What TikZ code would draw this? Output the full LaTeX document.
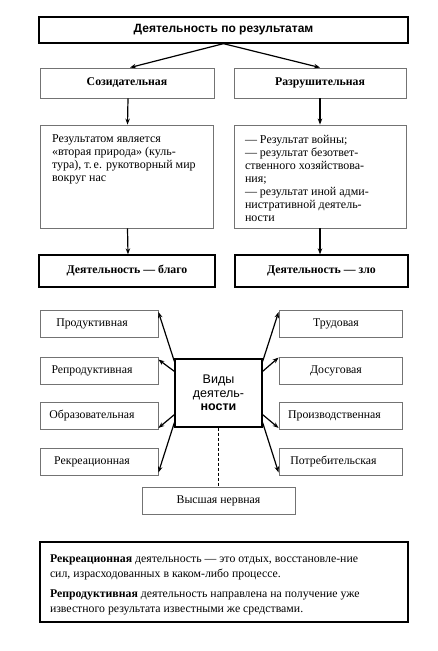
\documentclass[tikz,border=0pt]{standalone}
\usepackage{fontspec}
\setmainfont{Liberation Serif}
\newfontfamily\arialf{Liberation Sans}
\usetikzlibrary{arrows.meta}
\begin{document}
\begin{tikzpicture}[x=1pt,y=-1pt,
  blackbox/.style={draw=black,line width=1.3pt,inner sep=0pt},
  graybox/.style={draw=black!55,line width=0.9pt,inner sep=0pt},
  arr/.style={line width=1.2pt,-{Stealth[length=6pt,width=4.5pt]}},
  every node/.style={font=\fontsize{11.8}{13}\selectfont}
]
\useasboundingbox (0,0) rectangle (438,651);
% top section
\node[blackbox,minimum width=369pt,minimum height=26pt,font=\arialf\bfseries\fontsize{12}{13}\selectfont] (top) at (223.5,30) {Деятельность по результатам};
\node[graybox,minimum width=174pt,minimum height=30pt,font=\bfseries\fontsize{11.8}{13}\selectfont] (soz) at (127,83) {Созидательная};
\node[graybox,minimum width=172pt,minimum height=30pt,font=\bfseries\fontsize{11.8}{13}\selectfont] (raz) at (320,83) {Разрушительная};
\node[graybox] (lt) at (126.5,176.5) {\parbox[c][103pt][t]{173pt}{\vspace{10pt}\hspace*{12pt}\parbox[t]{160pt}{\fontsize{12}{13}\selectfont
Результатом является\\«вторая природа» (куль-\\тура), т.\,е. рукотворный мир\\вокруг нас}}};
\node[graybox] (rt) at (320,176.5) {\parbox[c][103pt][t]{172pt}{\vspace{10pt}\hspace*{11pt}\parbox[t]{160pt}{\fontsize{12}{13}\selectfont
— Результат войны;\\— результат безответ-\\ственного хозяйствова-\\ния;\\— результат иной адми-\\нистративной деятель-\\ности}}};
\node[blackbox,minimum width=176pt,minimum height=32pt,font=\bfseries\fontsize{11.8}{13}\selectfont] (good) at (127,271) {Деятельность — благо};
\node[blackbox,minimum width=173pt,minimum height=32pt,font=\bfseries\fontsize{11.8}{13}\selectfont] (evil) at (321.5,271) {Деятельность — зло};
\draw[arr] (top.south) -- ([xshift=3pt]soz.north);
\draw[arr] (top.south) -- (raz.north);
\draw[arr] ([xshift=1pt]soz.south) -- ([xshift=1pt]lt.north);
\draw[arr] (raz.south) -- (rt.north);
\draw[arr] ([xshift=1pt]lt.south) -- ([xshift=1pt]good.north);
\draw[arr] (rt.south) -- ([xshift=-1.5pt]evil.north);
% middle section
\node[blackbox,minimum width=87pt,minimum height=68pt,align=center,font=\arialf\fontsize{12.5}{13.5}\selectfont] (c) at (218.5,393) {Виды\\деятель-\\\textbf{ности}};
\tikzset{lbox/.style={graybox,minimum width=118pt,minimum height=27pt},
         rbox/.style={graybox,minimum width=123pt,minimum height=27pt}}
\node[lbox] (l1) at (99,324) {\hspace*{-14pt}Продуктивная};
\node[lbox] (l2) at (99,370.5) {\hspace*{-14pt}Репродуктивная};
\node[lbox] (l3) at (99,416) {\hspace*{-14pt}Образовательная};
\node[lbox] (l4) at (99,461.5) {\hspace*{-14pt}Рекреационная};
\node[rbox] (r1) at (340.5,324) {\hspace*{-9pt}Трудовая};
\node[rbox] (r2) at (340.5,370.5) {\hspace*{-9pt}Досуговая};
\node[rbox] (r3) at (340.5,416) {\hspace*{-12pt}Производственная};
\node[rbox] (r4) at (340.5,461.5) {\hspace*{-14pt}Потребительская};
\node[graybox,minimum width=153pt,minimum height=27pt] (hn) at (218.5,500.5) {Высшая нервная};
\draw[arr] ([yshift=-3pt]c.north west) -- ([yshift=-2pt]l1.north east);
\draw[arr] ([yshift=-13pt]c.north west) -- ([yshift=-3pt]l2.north east);
\draw[arr] ([yshift=13pt]c.south west) -- ([yshift=2pt]l3.south east);
\draw[arr] ([yshift=5pt]c.south west) -- ([yshift=3pt]l4.south east);
\draw[arr] ([yshift=-3pt]c.north east) -- ([yshift=-2pt]r1.north west);
\draw[arr] ([yshift=-13pt]c.north east) -- ([yshift=-1pt]r2.north west);
\draw[arr] ([yshift=13pt]c.south east) -- ([yshift=2pt]r3.south west);
\draw[arr] ([yshift=5pt]c.south east) -- ([yshift=3pt]r4.south west);
\draw[line width=1.2pt,dash pattern=on 3pt off 2pt] (c.south) -- (hn.north);
% bottom text
\node[blackbox] (def) at (224,582) {\parbox[c][80pt][c]{368pt}{\vspace*{6pt}\hspace*{10pt}\parbox{350pt}{\fontsize{11.8}{15.5}\selectfont
\textbf{Рекреационная} деятельность — это отдых, восстановле-ние\\сил, израсходованных в каком-либо процессе.\\[4pt]
\textbf{Репродуктивная} деятельность направлена на получение уже\\известного результата известными же средствами.}}};
\end{tikzpicture}
\end{document}
